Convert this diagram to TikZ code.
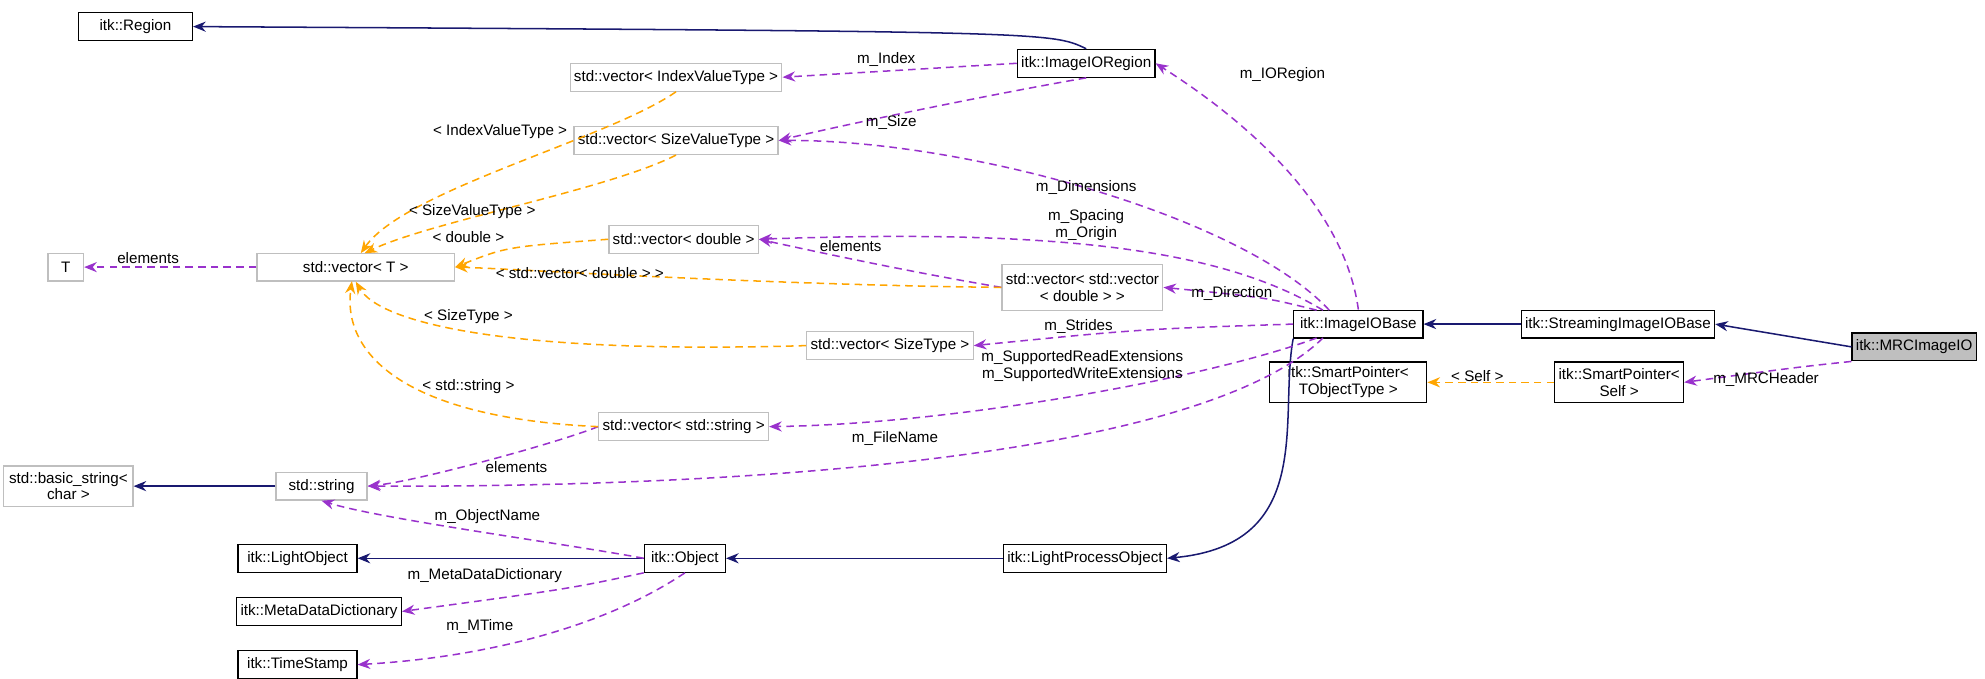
\documentclass[tikz,border=0pt]{standalone}
\usepackage{fontspec}
\setmainfont{Liberation Sans}
\usetikzlibrary{arrows.meta}
\definecolor{navy}{RGB}{25,25,112}
\definecolor{purp}{RGB}{153,50,204}
\definecolor{orng}{RGB}{255,165,0}
\definecolor{gbord}{RGB}{191,191,191}
\begin{document}
\begin{tikzpicture}[x=0.5pt,y=-0.5pt,
  every node/.style={font=\fontsize{6}{6.6}\selectfont},
  box/.style={draw=black,line width=0.5pt,minimum height=11pt,inner sep=1.5pt,align=center},
  gbox/.style={box,draw=gbord},
  lbl/.style={inner sep=0pt,align=center},
  inh/.style={draw=navy,line width=0.6pt,-{Stealth[length=5pt,width=4pt]}},
  use/.style={draw=purp,line width=0.6pt,dashed,dash pattern=on 3pt off 2pt,-{Stealth[length=5pt,width=4pt]}},
  tpl/.style={draw=orng,line width=0.6pt,dashed,dash pattern=on 3pt off 2pt,-{Stealth[length=5pt,width=4pt]}}]
\useasboundingbox (0,0) rectangle (1568,536);
% nodes
\node[box,minimum width=45pt] (region) at (107,21) {itk::Region};
\node[box,minimum width=53pt] (ioregion) at (858,50) {itk::ImageIORegion};
\node[gbox,minimum width=76pt] (ivt) at (534,61) {std::vector< IndexValueType >};
\node[gbox,minimum width=76pt] (svt) at (534,111) {std::vector< SizeValueType >};
\node[gbox,minimum width=14pt] (T) at (52,211) {T};
\node[gbox,minimum width=78pt] (vecT) at (281,211) {std::vector< T >};
\node[gbox,minimum width=58pt] (vd) at (540,189) {std::vector< double >};
\node[gbox,minimum width=62pt,minimum height=18pt] (vvd) at (855,227) {std::vector< std::vector\\< double > >};
\node[gbox,minimum width=65pt] (vst) at (703,273) {std::vector< SizeType >};
\node[gbox,minimum width=67pt] (vs) at (540,337) {std::vector< std::string >};
\node[gbox,minimum width=51pt,minimum height=16pt] (bstr) at (54,384) {std::basic\_string<\\char >};
\node[gbox,minimum width=36pt] (str) at (254,384) {std::string};
\node[box,minimum width=47pt] (lobj) at (235,441) {itk::LightObject};
\node[box,minimum width=32pt] (obj) at (541,441) {itk::Object};
\node[box,minimum width=64pt] (mdd) at (252,483) {itk::MetaDataDictionary};
\node[box,minimum width=47pt] (ts) at (235,525) {itk::TimeStamp};
\node[box,minimum width=61pt] (lpo) at (857,441) {itk::LightProcessObject};
\node[box,minimum width=51pt] (iobase) at (1073,256) {itk::ImageIOBase};
\node[box,minimum width=71pt] (siob) at (1278,256) {itk::StreamingImageIOBase};
\node[box,fill=gbord,minimum width=49pt] (mrc) at (1512,274) {itk::MRCImageIO};
\node[box,minimum width=62pt,minimum height=16pt] (spt) at (1065,302) {itk::SmartPointer<\\TObjectType >};
\node[box,minimum width=49pt,minimum height=16pt] (sps) at (1279,302) {itk::SmartPointer<\\Self >};
% inheritance
\draw[inh] (ioregion.north) .. controls (830,25) .. (region.east);
\draw[inh] (siob.west) -- (iobase.east);
\draw[inh] (mrc.west) -- (siob.east);
\draw[inh] (lpo.west) -- (obj.east);
\draw[inh] (obj.west) -- (lobj.east);
\draw[inh] (str.west) -- (bstr.east);
\draw[inh] (iobase.south west) .. controls (1010,330) and (1040,430) .. (lpo.east);
% usage
\draw[use] (ioregion.west) -- (ivt.east);
\node[lbl] (l1) at (700,47) {m\_Index};
\draw[use] (ioregion.south) .. controls (780,75) and (660,100) .. (svt.east);
\node[lbl] (l2) at (704,97) {m\_Size};
\draw[use] (iobase.north) .. controls (1060,150) and (960,80) .. (ioregion.east);
\node[lbl] (l3) at (1013,59) {m\_IORegion};
\draw[use] (1050,245) .. controls (980,170) and (760,110) .. (svt.east);
\node[lbl] (l4) at (858,148) {m\_Dimensions};
\draw[use] (1045,245) .. controls (970,200) and (850,180) .. (vd.east);
\node[lbl] (l5) at (858,178) {m\_Spacing\\m\_Origin};
\draw[use] (1040,245) .. controls (1000,235) .. (vvd.east);
\node[lbl] (l6) at (973,232) {m\_Direction};
\draw[use] (iobase.west) .. controls (900,260) .. (vst.east);
\node[lbl] (l7) at (852,258) {m\_Strides};
\draw[use] (1040,267) .. controls (950,300) and (750,335) .. (vs.east);
\node[lbl] (l8) at (855,289) {m\_SupportedReadExtensions\\m\_SupportedWriteExtensions};
\draw[use] (1045,267) .. controls (950,360) and (600,385) .. (str.east);
\node[lbl] (l9) at (707,346) {m\_FileName};
\draw[use] (vvd.west) .. controls (720,215) and (650,200) .. (vd.east);
\node[lbl] (l10) at (672,194) {elements};
\draw[use] (vecT.west) -- (T.east);
\node[lbl] (l11) at (117,204) {elements};
\draw[use] (vs.west) .. controls (440,350) and (330,380) .. (str.east);
\node[lbl] (l12) at (408,369) {elements};
\draw[use] (obj.west) .. controls (450,430) and (300,410) .. (str.south);
\node[lbl] (l13) at (385,408) {m\_ObjectName};
\draw[use] (obj.south west) .. controls (450,465) .. (mdd.east);
\node[lbl] (l14) at (383,455) {m\_MetaDataDictionary};
\draw[use] (obj.south) .. controls (470,500) and (370,520) .. (ts.east);
\node[lbl] (l15) at (379,495) {m\_MTime};
\draw[use] (mrc.south west) .. controls (1420,290) .. (sps.east);
\node[lbl] (l16) at (1395,300) {m\_MRCHeader};
% templates
\draw[tpl] (ivt.south) .. controls (480,110) and (320,150) .. (285,200);
\node[lbl] (t1) at (395,104) {< IndexValueType >};
\draw[tpl] (svt.south) .. controls (480,150) and (340,175) .. (288,200);
\node[lbl] (t2) at (373,167) {< SizeValueType >};
\draw[tpl] (vd.west) .. controls (400,195) .. (vecT.east);
\node[lbl] (t3) at (370,187) {< double >};
\draw[tpl] (vvd.west) .. controls (600,225) and (400,212) .. (vecT.east);
\node[lbl] (t4) at (458,216) {< std::vector< double > >};
\draw[tpl] (vst.west) .. controls (400,280) and (300,255) .. (vecT.south);
\node[lbl] (t5) at (370,250) {< SizeType >};
\draw[tpl] (vs.west) .. controls (320,330) and (270,280) .. (278,222);
\node[lbl] (t6) at (370,305) {< std::string >};
\draw[tpl] (sps.west) -- (spt.east);
\node[lbl] (t7) at (1167,297) {< Self >};
\end{tikzpicture}
\end{document}
